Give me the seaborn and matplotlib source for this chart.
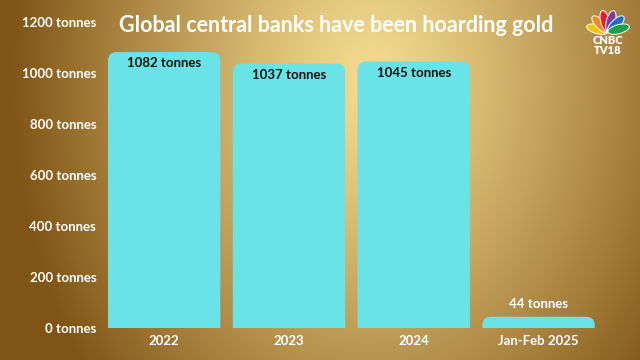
import numpy as np
import pandas as pd
import matplotlib
matplotlib.use("Agg")
import matplotlib.pyplot as plt
from matplotlib.patches import FancyBboxPatch, Ellipse
import seaborn as sns

periods = ["2022", "2023", "2024", "Jan-Feb 2025"]
tonnes = [1082, 1037, 1045, 44]
yticks = [0, 200, 400, 600, 800, 1000, 1200]

df = pd.DataFrame({"period": periods, "tonnes": tonnes})

sns.set_style("white")
plt.rcParams["font.family"] = ["Lato", "DejaVu Sans"]

fig = plt.figure(figsize=(6.4, 3.6), dpi=100)

# gold radial background
bg = fig.add_axes([0, 0, 1, 1], zorder=0)
yy, xx = np.mgrid[0:360, 0:640]
d = np.sqrt(((xx - 370) / 360.0) ** 2 + ((yy - 80) / 480.0) ** 2)
d = np.clip(d, 0, 1)
light = np.array([0.96, 0.86, 0.56])
dark = np.array([0.50, 0.33, 0.08])
t = d[..., None] ** 1.2
img = light * (1 - t) + dark * t
bg.imshow(img, aspect="auto", extent=[0, 640, 360, 0])
bg.set_xlim(0, 640)
bg.set_ylim(360, 0)
bg.axis("off")

# little peacock logo
feathers = ["#f5c400", "#f08a1c", "#e2202c", "#7a3f98", "#1a6fc0", "#1aa04a"]
for k, c in enumerate(feathers):
    ang = -165 + k * 30
    r = np.deg2rad(ang)
    cx, cy = 608 + 11 * np.cos(r), 32 + 11 * np.sin(r)
    bg.add_patch(Ellipse((cx, cy), 22, 9, angle=ang, facecolor=c,
                         edgecolor="white", lw=0.7))
bg.text(608, 41, "CNBC", ha="center", va="center", fontsize=8,
        fontweight="heavy", color="white")
bg.text(608, 51, "TV18", ha="center", va="center", fontsize=8,
        fontweight="heavy", color="white")

ax = fig.add_axes([0.159, 0.089, 0.78, 0.85], zorder=1)
ax.patch.set_alpha(0)
sns.barplot(data=df, x="period", y="tonnes", color="#6ae3e6", width=0.9,
            saturation=1, ax=ax)
ax.set_ylim(0, 1200)
ax.set_xlim(-0.5, 3.5)

# swap plain bars for ones with rounded tops
aspect = (1200 / 306) / (4 / 499)
for p in list(ax.patches):
    x0, w, h = p.get_x(), p.get_width(), p.get_height()
    p.set_visible(False)
    ax.add_patch(FancyBboxPatch((x0, -100), w, h + 100,
                                boxstyle="round,pad=0,rounding_size=0.07",
                                mutation_aspect=aspect,
                                facecolor="#6ae3e6", edgecolor="none"))

for i, v in enumerate(tonnes):
    if v > 200:
        ax.text(i, v - 20, f"{v} tonnes", ha="center", va="top",
                fontsize=9.5, fontweight="bold", color="#111111")
    else:
        ax.text(i, v + 25, f"{v} tonnes", ha="center", va="bottom",
                fontsize=9.5, fontweight="bold", color="white")

ax.set_yticks(yticks)
ax.set_yticklabels([f"{v} tonnes" for v in yticks])
ax.tick_params(axis="both", length=0, labelcolor="white", labelsize=9.5)
ax.tick_params(axis="y", pad=4)
ax.tick_params(axis="x", pad=5)
for lab in ax.get_xticklabels() + ax.get_yticklabels():
    lab.set_fontweight("bold")
ax.set_xlabel("")
ax.set_ylabel("")
sns.despine(ax=ax, left=True, bottom=True)

fig.text(0.525, 0.93, "Global central banks have been hoarding gold",
         ha="center", va="center", fontsize=15.5, fontweight="bold",
         color="white", zorder=3)

fig.savefig("out.png", dpi=100)
